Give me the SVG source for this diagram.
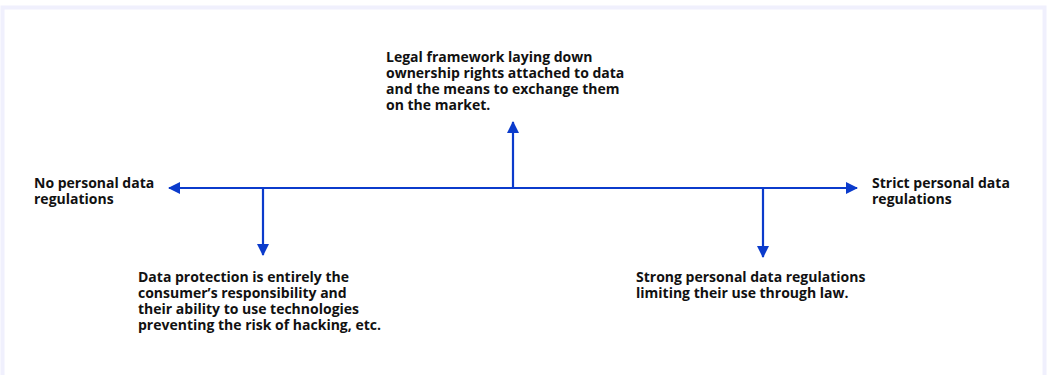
<svg xmlns="http://www.w3.org/2000/svg" width="1048" height="375" viewBox="0 0 1048 375">
<style>
.t{font-family:"Open Sans","Noto Sans",sans-serif;font-weight:700;font-size:14px;fill:#111}
.c{stroke:#0b3bcc;stroke-width:2.2;fill:none}
</style>
<defs>
<marker id="ah" viewBox="0 0 12 12" refX="11" refY="6" markerWidth="12" markerHeight="12" markerUnits="userSpaceOnUse" orient="auto">
<path d="M0,0 L12,6 L0,12 z" fill="#0b3bcc"/>
</marker>
</defs>
<rect x="2.5" y="7.5" width="1042" height="380" fill="#fff" stroke="#f0f0fd" stroke-width="4"/>
<g id="connectors">
<line class="c" x1="513" y1="188" x2="169" y2="188" marker-end="url(#ah)"/>
<line class="c" x1="513" y1="188" x2="857" y2="188" marker-end="url(#ah)"/>
<line class="c" x1="513" y1="188" x2="513" y2="122" marker-end="url(#ah)"/>
<line class="c" x1="263" y1="187" x2="263" y2="255" marker-end="url(#ah)"/>
<line class="c" x1="763" y1="187" x2="763" y2="257" marker-end="url(#ah)"/>
</g>
<g id="left"><text class="t" x="34" y="188">No personal data<tspan x="34" dy="16">regulations</tspan></text></g>
<g id="right"><text class="t" x="872" y="188">Strict personal data<tspan x="872" dy="16">regulations</tspan></text></g>
<g id="top"><text class="t" x="386" y="62">Legal framework laying down<tspan x="386" dy="16">ownership rights attached to data</tspan><tspan x="386" dy="16">and the means to exchange them</tspan><tspan x="386" dy="16">on the market.</tspan></text></g>
<g id="bottom-left"><text class="t" x="138" y="282">Data protection is entirely the<tspan x="138" dy="16">consumer’s responsibility and</tspan><tspan x="138" dy="16">their ability to use technologies</tspan><tspan x="138" dy="16">preventing the risk of hacking, etc.</tspan></text></g>
<g id="bottom-right"><text class="t" x="636" y="282">Strong personal data regulations<tspan x="636" dy="16">limiting their use through law.</tspan></text></g>
</svg>
